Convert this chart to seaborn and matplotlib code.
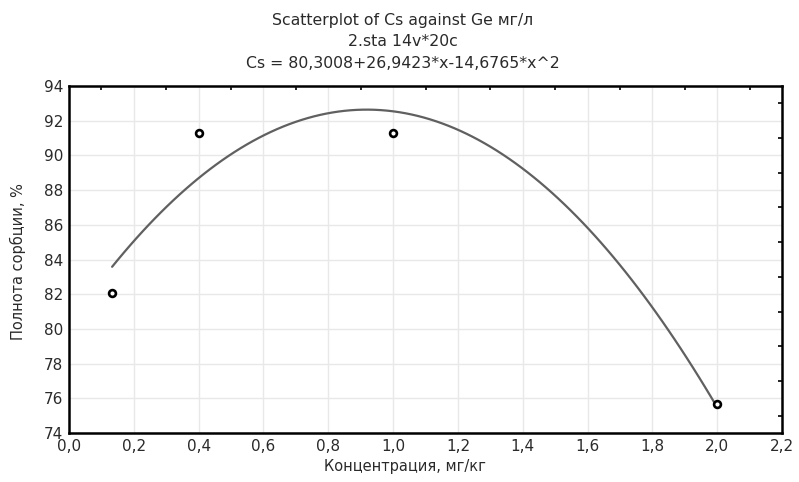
import matplotlib
matplotlib.use("Agg")
import matplotlib.pyplot as plt
import seaborn as sns
import pandas as pd
from matplotlib.ticker import MultipleLocator, FuncFormatter

# Data
conc = [0.133, 0.4, 1.0, 2.0]
sorption = [82.05, 91.27, 91.27, 75.7]
x_ticks = [0.0, 0.2, 0.4, 0.6, 0.8, 1.0, 1.2, 1.4, 1.6, 1.8, 2.0, 2.2]
y_ticks = [74, 76, 78, 80, 82, 84, 86, 88, 90, 92, 94]
title_lines = ["Scatterplot of Cs against Ge мг/л",
               "2.sta 14v*20c",
               "Cs = 80,3008+26,9423*x-14,6765*x^2"]
x_label = "Концентрация, мг/кг"
y_label = "Полнота сорбции, %"

df = pd.DataFrame({"x": conc, "y": sorption})

sns.set_style("white")
plt.rcParams["font.family"] = ["DejaVu Sans"]

fig = plt.figure(figsize=(7.99, 4.82), dpi=100)
ax = fig.add_axes([69/799, 1-433/482, (782-69)/799, (433-86)/482])

sns.regplot(data=df, x="x", y="y", order=2, ci=None, truncate=True, ax=ax,
            scatter_kws=dict(s=24, facecolors="white", edgecolors="black",
                             linewidths=1.9, zorder=4, alpha=1),
            line_kws=dict(color="#606060", lw=1.6, zorder=3))

ax.set_xlim(x_ticks[0], x_ticks[-1])
ax.set_ylim(y_ticks[0], y_ticks[-1])
ax.set_xticks(x_ticks)
ax.set_yticks(y_ticks)
ax.xaxis.set_minor_locator(MultipleLocator(0.1))
ax.yaxis.set_minor_locator(MultipleLocator(1))
ax.xaxis.set_major_formatter(FuncFormatter(lambda v, p: f"{v:.1f}".replace(".", ",")))
ax.yaxis.set_major_formatter(FuncFormatter(lambda v, p: f"{v:.0f}"))

ax.grid(True, which="major", color="#e8e8e8", lw=1.0, zorder=0)
ax.set_axisbelow(True)
for s in ax.spines.values():
    s.set_visible(True)
    s.set_color("black")
    s.set_linewidth(1.8)

ax.tick_params(which="both", direction="in", top=True, right=True,
               colors="black", labelcolor="#2a2a2a")
ax.tick_params(which="major", length=0, labelsize=11, pad=4)
ax.tick_params(which="minor", length=3, width=1.2)

ax.set_xlabel("")
ax.set_ylabel("")
fig.text(405/799, 1-466/482, x_label, ha="center", va="center",
         fontsize=10.5, color="#2a2a2a")
fig.text(18/799, 1-262/482, y_label, ha="center", va="center",
         rotation=90, fontsize=10.5, color="#2a2a2a")

for yy, t in zip([20, 42, 64], title_lines):
    fig.text(403/799, 1-yy/482, t, ha="center", va="center",
             fontsize=11.3, color="#2a2a2a")

fig.savefig("out.png", dpi=100)
